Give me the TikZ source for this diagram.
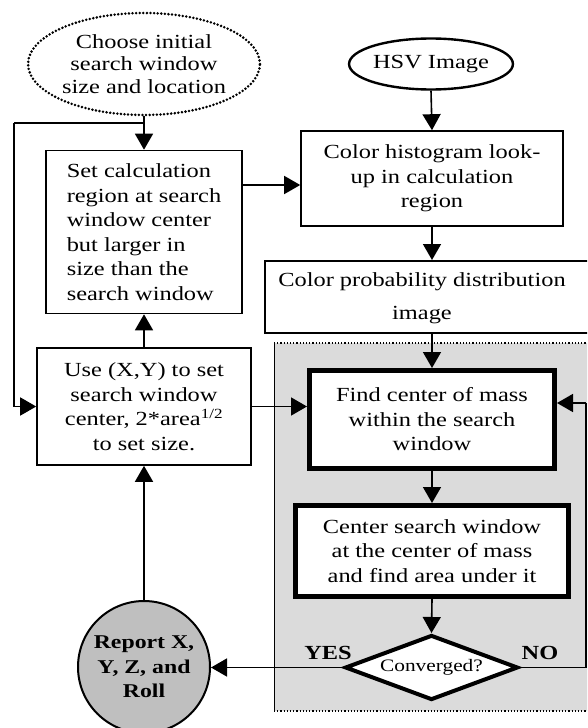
\documentclass[tikz,border=0pt]{standalone}
\usepackage{fontspec}
\setmainfont[FakeStretch=1.22]{Liberation Serif}
\usetikzlibrary{shapes.geometric,arrows.meta}
\begin{document}
\begin{tikzpicture}[x=1pt,y=-1pt,
  txt/.style={font=\fontsize{20}{24.5}\selectfont},
  plainbox/.style={draw, line width=1.6pt, rectangle, fill=white, inner sep=0pt, txt, align=center},
  thickbox/.style={draw, line width=5pt, rectangle, fill=white, inner sep=0pt, txt, align=center},
  arr/.style={line width=1.6pt, -{Triangle[length=16pt,width=18pt]}},
  ln/.style={line width=1.6pt}]
\useasboundingbox (0,0) rectangle (587,728);
\clip (0,0) rectangle (587,728);
% gray region
\fill[gray!28] (274,343) rectangle (620,711);
\draw[line width=1.2pt, dotted] (274,343) -- (620,343);
\draw[line width=1.2pt, dotted] (274,711) -- (620,711);
\draw[line width=1pt] (274,343) -- (274,711);
% nodes
\node[ellipse, draw, line width=2.8pt, dash pattern=on 0pt off 3.6pt, line cap=round,
      minimum width=210pt, minimum height=102pt, inner sep=0pt, align=center,
      font=\fontsize{20}{22.5}\selectfont] (init) at (144,64)
      {Choose initial\\search window\\size and location};
\node[plainbox, minimum width=196pt, minimum height=163pt, align=left] (setbox) at (144,232)
      {Set calculation\\region at search\\window center\\but larger in\\size than the\\search window};
\node[ellipse, draw, line width=2.4pt, minimum width=140pt, minimum height=51pt, inner sep=0pt, txt] (hsv) at (431,64) {HSV Image};
\node[plainbox, minimum width=262pt, minimum height=95pt] (hist) at (432,178.5)
      {Color histogram look-\\up in calculation\\region};
\node[draw, line width=1.6pt, fill=white, minimum width=356pt, minimum height=72pt, anchor=north west, inner sep=0pt] (prob) at (264,260) {};
\node[txt, align=center] (probtext) at (422,298) {Color probability distribution\\[8pt]image};
\node[plainbox, minimum width=214pt, minimum height=117pt] (use) at (144,406.5)
      {Use (X,Y) to set\\search window\\center, 2*area\textsuperscript{1/2}\\to set size.};
\node[thickbox, minimum width=245pt, minimum height=98pt] (find) at (432,419.5)
      {Find center of mass\\within the search\\window};
\node[thickbox, minimum width=273pt, minimum height=91pt] (center) at (432,551)
      {Center search window\\at the center of mass\\and find area under it};
\node[diamond, aspect=2.66, draw, line width=4pt, fill=white, minimum width=173pt, minimum height=65pt, inner sep=0pt,
      font=\fontsize{17.5}{20}\selectfont] (conv) at (431.5,667.5) {Converged?};
\node[circle, draw, line width=2pt, fill=gray!50, minimum size=132pt, inner sep=0pt, align=center,
      font=\fontsize{19.5}{24.5}\selectfont\bfseries] (report) at (144,667) {Report X,\\Y, Z, and\\Roll};
\node[font=\fontsize{20}{24}\selectfont\bfseries] (yes) at (328,653) {YES};
\node[font=\fontsize{20}{24}\selectfont\bfseries] (no) at (540,653) {NO};
% connectors
\coordinate (lt) at (14,123);
\coordinate (nr) at (586,403);
\draw[arr] (init.south) -- (setbox.north);
\draw[ln] (init.south |- lt) -- (lt);
\draw[arr] (lt) |- (use.west);
\draw[arr] (use.north) -- (setbox.south);
\draw[arr] (setbox.east |- 0,185) -- (hist.west |- 0,185);
\draw[arr] (hsv.south) -- (hist.north);
\draw[arr] (hist.south) -- (hist.south |- prob.north);
\draw[arr] (find.north |- prob.south) -- (find.north);
\draw[arr] (use.east) -- (use.east -| find.west);
\draw[arr] (find.south) -- (center.north);
\draw[arr] (center.south) -- (conv.north);
\draw[arr] (conv.west) -- (conv.west -| report.east);
\draw[ln] (conv.east) -| (nr);
\draw[arr] (nr) -- (nr -| find.east);
\draw[arr] (report.north) -- (use.south);
\end{tikzpicture}
\end{document}
